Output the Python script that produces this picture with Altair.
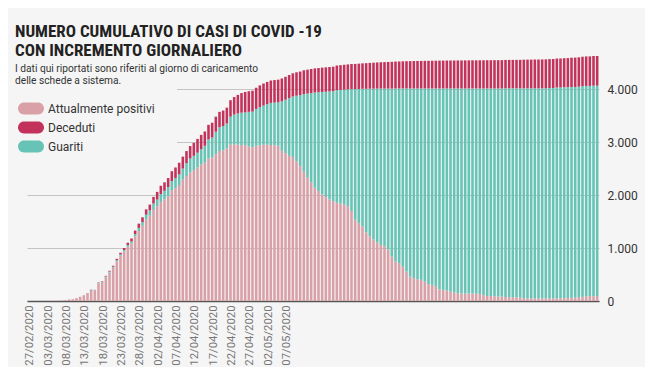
import altair as alt
import pandas as pd

# categories: one bar per day from 27/02/2020
dates = pd.date_range("2020-02-27", periods=156, freq="D").strftime("%d/%m/%Y").tolist()
label_dates = dates[0:71:5]

positivi = [
    0, 0, 0, 0, 0, 0, 0, 3, 5, 10,
    15, 30, 35, 55, 80, 110, 144, 195, 195, 330,
    346, 447, 537, 627, 748, 855, 934, 1023, 1089, 1220,
    1320, 1420, 1540, 1610, 1720, 1790, 1870, 1920, 1980, 2090,
    2130, 2190, 2290, 2360, 2425, 2470, 2520, 2580, 2610, 2690,
    2710, 2770, 2830, 2840, 2880, 2950, 2960, 2950, 2945, 2940,
    2920, 2900, 2930, 2940, 2950, 2950, 2945, 2940, 2930, 2835,
    2790, 2740, 2720, 2640, 2550, 2440, 2330, 2235, 2140, 2075,
    2010, 1960, 1915, 1885, 1855, 1840, 1820, 1790, 1700, 1535,
    1470, 1410, 1295, 1220, 1160, 1105, 1060, 1030, 970, 840,
    745, 715, 650, 555, 460, 430, 410, 400, 365, 320,
    305, 270, 220, 210, 200, 175, 160, 145, 140, 140,
    140, 140, 140, 130, 110, 95, 95, 90, 85, 85,
    75, 70, 70, 70, 65, 55, 50, 50, 50, 50,
    50, 50, 50, 50, 50, 50, 55, 60, 60, 65,
    70, 80, 85, 95, 90, 95,
]

guariti = [
    0, 0, 0, 0, 0, 0, 0, 0, 0, 0,
    0, 0, 0, 0, 0, 0, 3, 10, 10, 12,
    14, 16, 18, 20, 22, 25, 28, 32, 36, 45,
    60, 70, 90, 100, 120, 125, 150, 160, 170, 175,
    190, 200, 210, 240, 265, 270, 280, 285, 320, 360,
    375, 425, 450, 460, 470, 530, 560, 590, 610, 620,
    650, 675, 695, 720, 740, 765, 795, 805, 820, 935,
    1010, 1090, 1140, 1235, 1335, 1465, 1585, 1690, 1795, 1865,
    1935, 1990, 2040, 2075, 2125, 2145, 2170, 2205, 2300, 2465,
    2532, 2595, 2710, 2788, 2848, 2905, 2950, 2980, 3040, 3170,
    3267, 3297, 3362, 3457, 3552, 3582, 3602, 3612, 3647, 3692,
    3707, 3742, 3792, 3802, 3812, 3837, 3852, 3867, 3872, 3872,
    3872, 3872, 3872, 3882, 3902, 3917, 3917, 3922, 3927, 3927,
    3940, 3945, 3945, 3945, 3950, 3960, 3965, 3965, 3965, 3965,
    3965, 3965, 3970, 3970, 3980, 3980, 3980, 3975, 3980, 3975,
    3975, 3975, 3975, 3965, 3975, 3970,
]

deceduti = [
    0, 0, 0, 0, 0, 0, 0, 0, 0, 0,
    0, 0, 0, 0, 0, 0, 3, 5, 5, 8,
    10, 12, 15, 18, 25, 30, 38, 45, 55, 65,
    80, 90, 100, 110, 125, 145, 155, 160, 170, 185,
    200, 220, 225, 230, 235, 245, 260, 270, 270, 275,
    280, 285, 290, 295, 300, 310, 330, 350, 370, 385,
    390, 395, 400, 410, 415, 420, 422, 425, 428, 430,
    432, 435, 438, 442, 446, 450, 452, 454, 456, 458,
    460, 461, 462, 463, 465, 467, 469, 471, 473, 475,
    478, 481, 484, 487, 490, 493, 496, 499, 502, 505,
    508, 510, 512, 514, 516, 518, 519, 520, 521, 522,
    523, 524, 525, 526, 527, 528, 528, 529, 529, 530,
    530, 531, 531, 532, 532, 533, 533, 534, 534, 535,
    535, 536, 536, 537, 537, 540, 541, 542, 543, 544,
    545, 546, 546, 547, 547, 548, 548, 550, 552, 554,
    555, 556, 557, 558, 559, 560,
]

series_names = ["Attualmente positivi", "Deceduti", "Guariti"]
series_colors = ["#d9a1a7", "#c3325a", "#66c3b5"]

rows = []
for i, d in enumerate(dates):
    rows.append({"data": d, "serie": "Attualmente positivi", "valore": positivi[i], "ord": 0})
    rows.append({"data": d, "serie": "Guariti", "valore": guariti[i], "ord": 1})
    rows.append({"data": d, "serie": "Deceduti", "valore": deceduti[i], "ord": 2})
df = pd.DataFrame(rows)

BG = "#f5f5f5"
FONT = "Roboto"
TITLE_FONT = "Liberation Sans Narrow, Roboto Condensed, Roboto"
pill = "M-0.54,-0.46 L0.54,-0.46 A0.46,0.46 0 0 1 0.54,0.46 L-0.54,0.46 A0.46,0.46 0 0 1 -0.54,-0.46 Z"

one = pd.DataFrame({"a": [0]})

mask = alt.Chart(one).mark_rect(color=BG).encode(
    x=alt.value(-20), x2=alt.value(150), y=alt.value(-44), y2=alt.value(100)
)

bars = alt.Chart(df).mark_bar().encode(
    x=alt.X(
        "data:N",
        sort=dates,
        scale=alt.Scale(paddingInner=0.3, paddingOuter=0.15),
        axis=alt.Axis(
            values=label_dates, labelAngle=-90, ticks=False, labelPadding=4,
            labelOffset=1.5,
            labelColor="#777", labelFontSize=11.3, labelFont=FONT,
            domainColor="#555", domainWidth=1.5, title=None, grid=False,
        ),
    ),
    y=alt.Y(
        "valore:Q",
        stack="zero",
        scale=alt.Scale(domain=[0, 4700], nice=False),
        axis=alt.Axis(
            orient="right", values=[0, 1000, 2000, 3000, 4000],
            labelExpr="replace(format(datum.value, ','), ',', '.')",
            labelFont=FONT, labelFontSize=12, labelColor="#333", labelPadding=8,
            ticks=False, domain=False, title=None,
            gridColor="#c4c4c4", gridWidth=1.2,
        ),
    ),
    color=alt.Color(
        "serie:N",
        scale=alt.Scale(domain=series_names, range=series_colors),
        legend=alt.Legend(
            orient="none", legendX=-9, legendY=43.5, title=None,
            symbolType=pill, symbolSize=676, symbolStrokeWidth=0, symbolOpacity=1,
            labelFont=FONT, labelFontSize=12, labelColor="#333",
            labelOffset=4, rowPadding=0,
        ),
    ),
    order=alt.Order("ord:Q", sort="ascending"),
)

def txt(s, x, y, size, weight="normal", font=FONT, color="#222"):
    return alt.Chart(one).mark_text(
        align="left", baseline="alphabetic", font=font, fontSize=size,
        fontWeight=weight, color=color,
    ).encode(x=alt.value(x), y=alt.value(y), text=alt.value(s))

t1 = txt("NUMERO CUMULATIVO DI CASI DI COVID -19", -12, -15, 17, "bold", TITLE_FONT)
t2 = txt("CON INCREMENTO GIORNALIERO", -12, 3.5, 17, "bold", TITLE_FONT)
s1 = txt("I dati qui riportati sono riferiti al giorno di caricamento", -12, 19.5, 10.2, color="#333")
s2 = txt("delle schede a sistema.", -12, 31.5, 10.2, color="#333")

chart = alt.layer(mask, bars, t1, t2, s1, s2).properties(
    width=572, height=249,
    autosize=alt.AutoSizeParams(type="none"),
    padding={"left": 19, "top": 44, "right": 46, "bottom": 66},
    background=BG,
).configure_view(stroke=None)

chart.save("out.html", embed_options={"renderer": "svg", "actions": False})
